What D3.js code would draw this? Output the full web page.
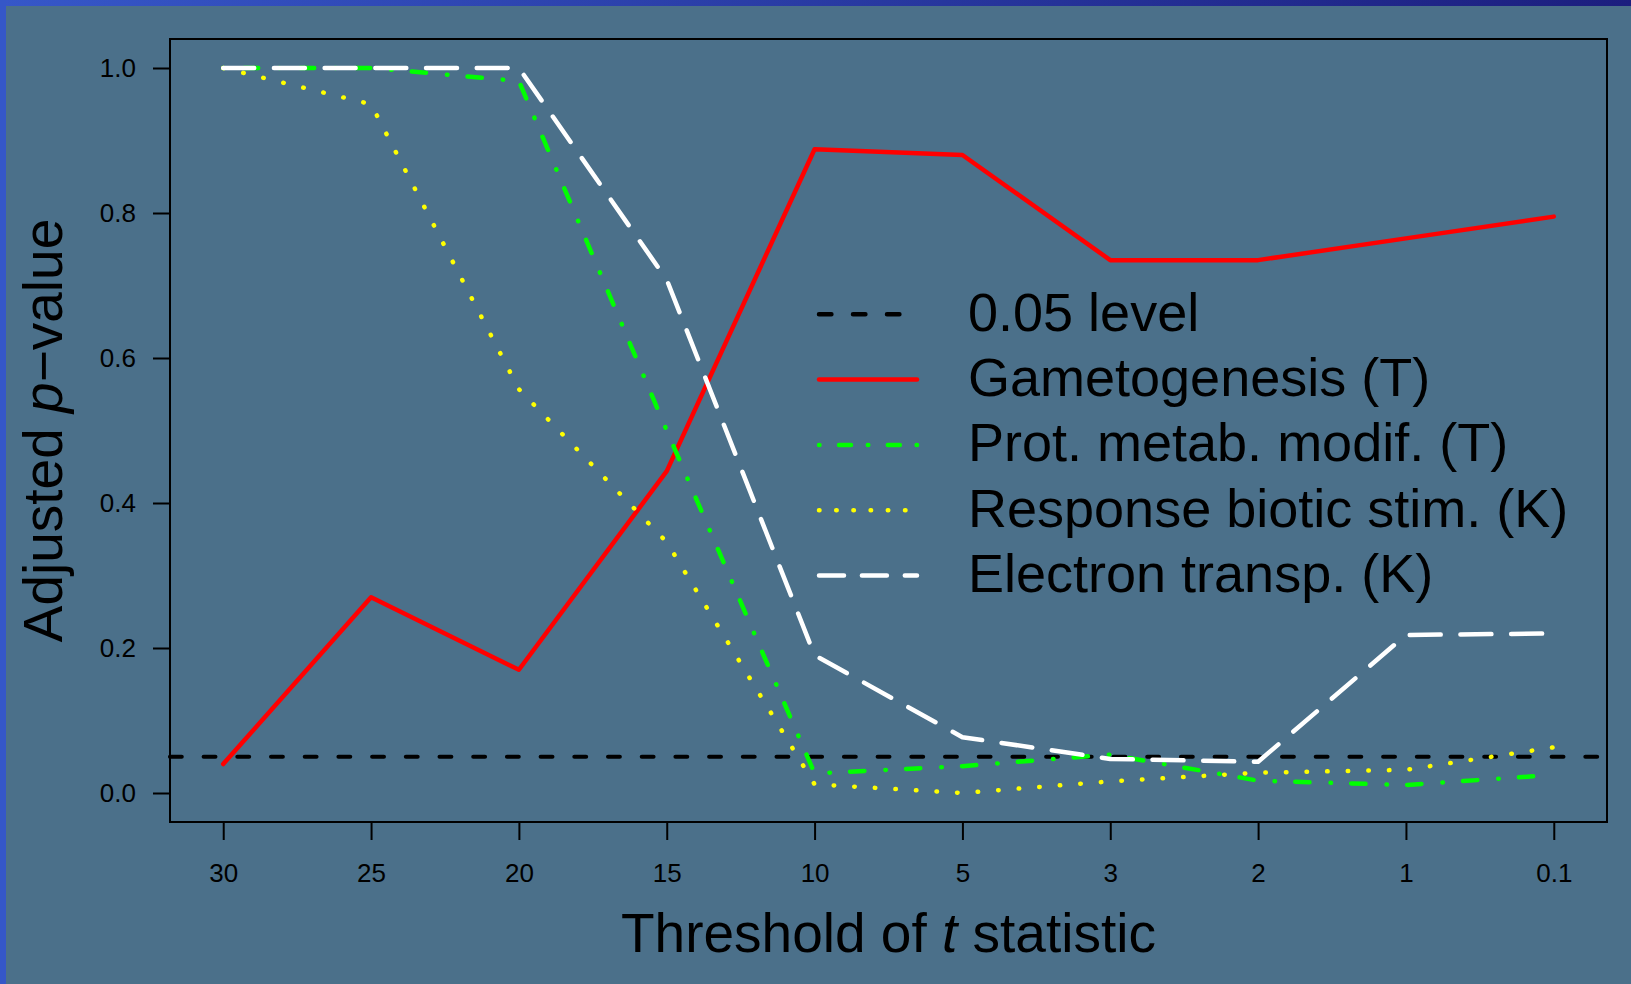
<!DOCTYPE html>
<html>
<head>
<meta charset="utf-8">
<script src="https://cdn.jsdelivr.net/npm/d3@7"></script>
<style>
  html, body { margin: 0; padding: 0; background: #4b708a; }
  svg { display: block; }
  text { font-family: "Liberation Sans", Arial, Helvetica, sans-serif; fill: #000; }
</style>
</head>
<body>
<div id="chart"></div>
<script>
// thresholds of the t statistic (categorical x axis)
const tLabels = ["30", "25", "20", "15", "10", "5", "3", "2", "1", "0.1"];

// adjusted p-values per category
const gametogenesis = [0.04, 0.27, 0.17, 0.444, 0.888, 0.88, 0.735, 0.735, 0.765, 0.795];
const protMetab = [1.0, 1.0, 0.982, 0.50, 0.027, 0.037, 0.053, 0.017, 0.011, 0.025];
const respBiotic = [1.0, 0.95, 0.557, 0.346, 0.012, 0.0, 0.016, 0.028, 0.032, 0.063];
const electronTransp = [1.0, 1.0, 1.0, 0.708, 0.19, 0.077, 0.047, 0.043, 0.218, 0.22];

const sigLevel = 0.05;
const yTicks = [0, 0.2, 0.4, 0.6, 0.8, 1.0];

const legendLabels = ["0.05 level", "Gametogenesis (T)", "Prot. metab. modif. (T)",
  "Response biotic stim. (K)", "Electron transp. (K)"];

const W = 1631, H = 984;
const box = {left: 170, right: 1607, top: 39, bottom: 822};

const series = [
  {values: gametogenesis, color: "#ff0000", dash: null, legDash: null},
  {values: protMetab, color: "#00ff00", dash: "0.5 20.2 14.3 21", legDash: "0.5 19.5 12 16.8"},
  {values: respBiotic, color: "#ffff00", dash: "0.5 20.1", legDash: "0.5 16.7"},
  {values: electronTransp, color: "#ffffff", dash: "31 19.7", legDash: "25 17.9"}
];

const svg = d3.select("#chart")
  .append("svg")
  .attr("width", W)
  .attr("height", H);

const defs = svg.append("defs");
const grad = defs.append("linearGradient")
  .attr("id", "topband")
  .attr("x1", "0%").attr("x2", "100%");
grad.append("stop").attr("offset", "0%").attr("stop-color", "#3657c8");
grad.append("stop").attr("offset", "100%").attr("stop-color", "#1c1e7e");

svg.append("rect")
  .attr("width", W).attr("height", H)
  .attr("fill", "#4b708a");
svg.append("rect")
  .attr("width", W).attr("height", 6)
  .attr("fill", "url(#topband)");
svg.append("rect")
  .attr("width", 6).attr("height", H)
  .attr("fill", "#3557c8");

// R style: 4% padding on both axes
const x = d3.scaleLinear()
  .domain([-0.36, tLabels.length - 1 + 0.36])
  .range([box.left, box.right]);

const y = d3.scaleLinear()
  .domain([-0.04, 1.04])
  .range([box.bottom, box.top]);

// axes
const xAxis = svg.append("g")
  .attr("transform", `translate(0,${box.bottom})`)
  .call(d3.axisBottom(x)
    .tickValues(d3.range(tLabels.length))
    .tickFormat(i => tLabels[i])
    .tickSize(18)
    .tickPadding(24));

const yAxis = svg.append("g")
  .attr("transform", `translate(${box.left},0)`)
  .call(d3.axisLeft(y)
    .tickValues(yTicks)
    .tickFormat(d3.format(".1f"))
    .tickSize(17)
    .tickPadding(17));

[xAxis, yAxis].forEach(a => {
  a.select(".domain").remove();
  a.selectAll("line").attr("stroke", "#000").attr("stroke-width", 2);
  a.selectAll("text")
    .attr("fill", "#000")
    .style("font-size", "26px")
    .style("font-family", "'Liberation Sans', Arial, sans-serif");
});

// 0.05 reference line
svg.append("line")
  .attr("x1", box.left).attr("x2", box.right)
  .attr("y1", y(sigLevel)).attr("y2", y(sigLevel))
  .attr("stroke", "#000")
  .attr("stroke-width", 4.2)
  .attr("stroke-linecap", "round")
  .attr("stroke-dasharray", "11.7 22");

const line = d3.line()
  .x((d, i) => x(i))
  .y(d => y(d));

svg.append("g")
  .selectAll("path")
  .data(series)
  .enter().append("path")
  .attr("d", d => line(d.values))
  .attr("fill", "none")
  .attr("stroke", d => d.color)
  .attr("stroke-width", 4.5)
  .attr("stroke-linecap", "round")
  .attr("stroke-linejoin", "round")
  .attr("stroke-dasharray", d => d.dash);

// plot box
svg.append("rect")
  .attr("x", box.left).attr("y", box.top)
  .attr("width", box.right - box.left)
  .attr("height", box.bottom - box.top)
  .attr("fill", "none")
  .attr("stroke", "#000")
  .attr("stroke-width", 2);

// axis titles
const xTitle = svg.append("text")
  .attr("x", (box.left + box.right) / 2)
  .attr("y", 952)
  .attr("text-anchor", "middle")
  .style("font-size", "55px");
xTitle.append("tspan").text("Threshold of ");
xTitle.append("tspan").style("font-style", "italic").text("t");
xTitle.append("tspan").text(" statistic");

const yTitle = svg.append("text")
  .attr("transform", `translate(62,${(box.top + box.bottom) / 2}) rotate(-90)`)
  .attr("text-anchor", "middle")
  .style("font-size", "55px");
yTitle.append("tspan").text("Adjusted ");
yTitle.append("tspan").style("font-style", "italic").text("p");
yTitle.append("tspan").text("\u2212value");

// legend
const legendStyles = [{color: "#000", legDash: "12.4 21.6"}].concat(series);
const leg = svg.append("g")
  .selectAll("g")
  .data(legendLabels)
  .enter().append("g")
  .attr("transform", (d, i) => `translate(0,${314.3 + i * 65.3})`);

leg.append("line")
  .attr("x1", 819).attr("x2", 917)
  .attr("stroke", (d, i) => legendStyles[i].color)
  .attr("stroke-width", 4.5)
  .attr("stroke-linecap", "round")
  .attr("stroke-dasharray", (d, i) => legendStyles[i].legDash);

leg.append("text")
  .attr("x", 968)
  .attr("y", -3)
  .attr("dy", "0.36em")
  .style("font-size", "54px")
  .text(d => d);
</script>
</body>
</html>
